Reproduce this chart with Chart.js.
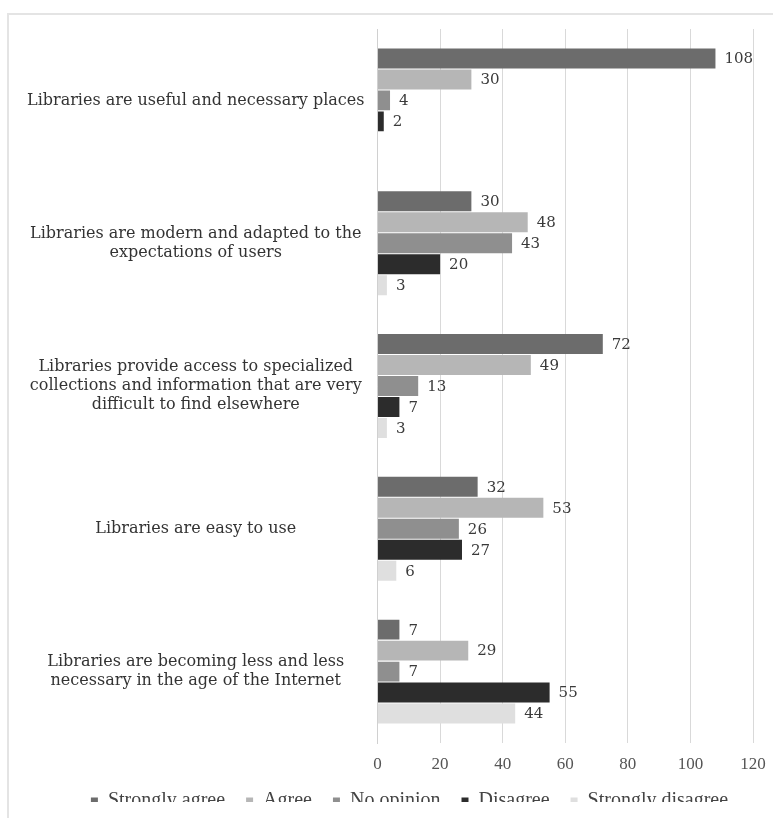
<!DOCTYPE html>
<html>
<head>
<meta charset="utf-8">
<script src="https://cdn.jsdelivr.net/npm/chart.js@4.4.1/dist/chart.umd.min.js"></script>
<style>
    html, body { margin: 0; padding: 0; background: #fff; overflow: hidden; }
    .frame {
        position: absolute;
        left: 7px; top: 13px;
        width: 780px; height: 820px;
        border-left: 2px solid #e4e4e4;
        border-top: 2px solid #e4e4e4;
    }
    .wrap { position: absolute; left: 0; top: 0; width: 773px; height: 818px; }
</style>
</head>
<body>
<div class="frame"></div>
<div class="wrap"><canvas id="chart" width="773" height="818"></canvas></div>
<script>
// Câu hỏi khảo sát (trục dọc)
const categories = [
    ['Libraries are useful and necessary places'],
    ['Libraries are modern and adapted to the', 'expectations of users'],
    ['Libraries provide access to specialized', 'collections and information that are very', 'difficult to find elsewhere'],
    ['Libraries are easy to use'],
    ['Libraries are becoming less and less', 'necessary in the age of the Internet']
];

// Số câu trả lời theo từng mức độ
const stronglyAgree = [108, 30, 72, 32, 7];
const agree = [30, 48, 49, 53, 29];
const noOpinion = [4, 43, 13, 26, 7];
const disagree = [2, 20, 7, 27, 55];
const stronglyDisagree = [null, 3, 3, 6, 44];

const xTicks = [0, 20, 40, 60, 80, 100, 120];

const seriesNames = ['Strongly agree', 'Agree', 'No opinion', 'Disagree', 'Strongly disagree'];
const seriesData = [stronglyAgree, agree, noOpinion, disagree, stronglyDisagree];
const seriesColors = ['#6c6c6c', '#b6b6b6', '#8f8f8f', '#2c2c2c', '#dfdfdf'];

// Ghi giá trị ở cuối mỗi thanh
const valueLabels = {
    id: 'valueLabels',
    afterDatasetsDraw(chart) {
        const ctx = chart.ctx;
        ctx.save();
        ctx.font = '15px "DejaVu Serif", serif';
        ctx.fillStyle = '#3a3a3a';
        ctx.textAlign = 'left';
        ctx.textBaseline = 'middle';
        chart.data.datasets.forEach((ds, i) => {
            chart.getDatasetMeta(i).data.forEach((bar, j) => {
                const v = ds.data[j];
                if (v === null || v === undefined) return;
                ctx.fillText(String(v), bar.x + 9, bar.y + 1);
            });
        });
        ctx.restore();
    }
};

// Dịch chú thích sang phải và kéo lên sát các số trục
const legendShift = {
    id: 'legendShift',
    afterLayout(chart) {
        const lg = chart.legend;
        lg.left += 12;
        lg.right += 12;
        lg.top -= 16;
        lg.bottom -= 16;
    }
};

new Chart(document.getElementById('chart'), {
    type: 'bar',
    data: {
        labels: categories,
        datasets: seriesNames.map((name, i) => ({
            label: name,
            data: seriesData[i],
            backgroundColor: seriesColors[i],
            borderWidth: 0,
            categoryPercentage: 0.735,
            barPercentage: 0.95
        }))
    },
    options: {
        indexAxis: 'y',
        responsive: false,
        animation: false,
        layout: { padding: { left: 22, right: 0, top: 29, bottom: 0 } },
        plugins: {
            legend: {
                position: 'bottom',
                maxHeight: 32,
                labels: {
                    boxWidth: 7,
                    boxHeight: 7,
                    padding: 21,
                    color: '#444',
                    font: { family: '"Liberation Serif", serif', size: 20, lineHeight: 1 }
                }
            },
            tooltip: { enabled: false }
        },
        scales: {
            x: {
                min: 0,
                max: 120,
                afterBuildTicks: axis => { axis.ticks = xTicks.map(v => ({ value: v })); },
                afterFit: axis => { axis.paddingRight = 20; },
                grid: { color: '#d9d9d9', drawTicks: false },
                border: { display: false },
                ticks: {
                    padding: 13,
                    color: '#555',
                    font: { family: '"Liberation Serif", serif', size: 17, lineHeight: 1 }
                }
            },
            y: {
                afterFit: axis => {
                    axis.paddingTop = 0;
                    axis.paddingBottom = 0;
                },
                grid: { display: false },
                border: { color: '#d0d0d0' },
                ticks: {
                    crossAlign: 'center',
                    padding: 5,
                    color: '#333',
                    font: { family: '"DejaVu Serif", serif', size: 16, lineHeight: 1.2 }
                }
            }
        }
    },
    plugins: [valueLabels, legendShift]
});
</script>
</body>
</html>
